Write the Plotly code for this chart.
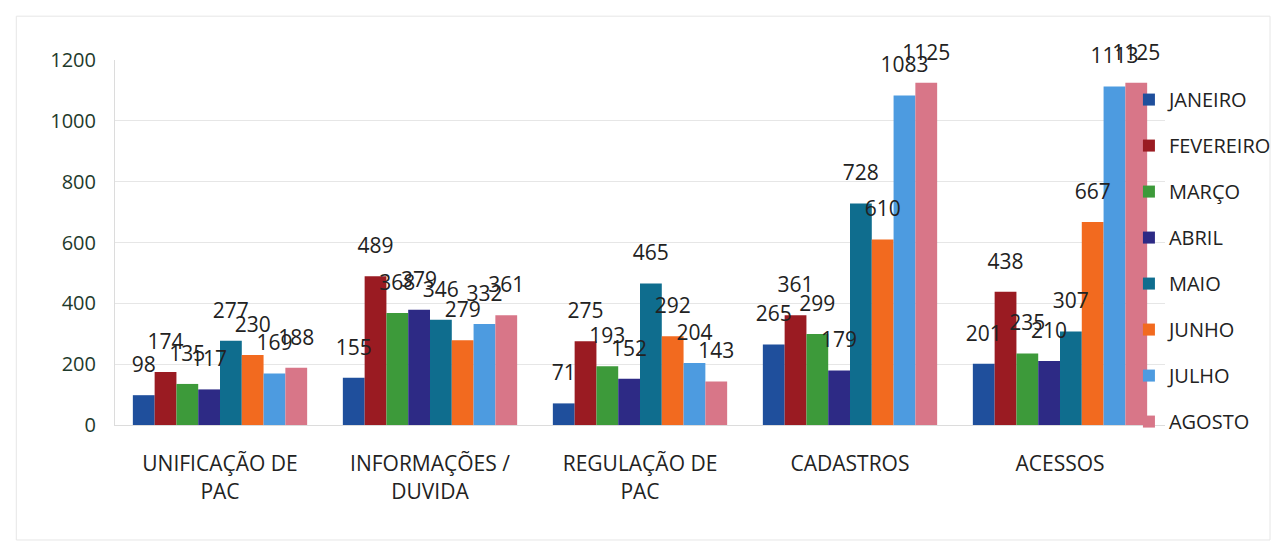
import plotly.graph_objects as go

categories = ["UNIFICAÇÃO DE<br>PAC", "INFORMAÇÕES /<br>DUVIDA", "REGULAÇÃO DE<br>PAC", "CADASTROS", "ACESSOS"]
months = ["JANEIRO", "FEVEREIRO", "MARÇO", "ABRIL", "MAIO", "JUNHO", "JULHO", "AGOSTO"]
janeiro = [98, 155, 71, 265, 201]
fevereiro = [174, 489, 275, 361, 438]
marco = [135, 368, 193, 299, 235]
abril = [117, 379, 152, 179, 210]
maio = [277, 346, 465, 728, 307]
junho = [230, 279, 292, 610, 667]
julho = [169, 332, 204, 1083, 1113]
agosto = [188, 361, 143, 1125, 1125]
series = [janeiro, fevereiro, marco, abril, maio, junho, julho, agosto]
colors = ["#1f4f9c", "#9a1b22", "#3d9a3a", "#2d2a85", "#0f6d8e", "#f26a1f", "#4d9be0", "#d87688"]

fig = go.Figure()
for name, vals, col in zip(months, series, colors):
    fig.add_trace(go.Bar(
        name=name, x=categories, y=vals, marker_color=col, marker_line_width=0,
        offsetgroup=name, legendgroup=name,
    ))
for name, vals in zip(months, series):
    fig.add_trace(go.Scatter(
        x=categories, y=vals, mode="markers+text", offsetgroup=name,
        text=[str(v) for v in vals], textposition="top center", cliponaxis=False,
        marker=dict(size=27, opacity=0), showlegend=False, hoverinfo="skip",
        textfont=dict(size=21, color="#222222", family="Open Sans"),
    ))

fig.update_layout(
    width=1284, height=546,
    paper_bgcolor="white", plot_bgcolor="white",
    barmode="group", bargap=0.17, bargroupgap=0,
    scattermode="group", scattergap=0.17,
    margin=dict(l=107, r=127, t=52, b=129, autoexpand=False),
    font=dict(family="Open Sans", color="#222222"),
    legend=dict(xref="container", yref="container", x=0.873, xanchor="left",
                y=0.868, yanchor="top", maxheight=520,
                font=dict(size=20, color="#222222"), tracegroupgap=17,
                bgcolor="rgba(0,0,0,0)", itemwidth=30),
    showlegend=True,
)
fig.update_yaxes(range=[0, 1200], dtick=200, showgrid=True, gridcolor="#e6e6e6",
                 tickfont=dict(size=20, color="#1e3a2c"), showline=True, linecolor="#dcdcdc",
                 ticks="outside", tickcolor="white", ticklen=14, zeroline=False, automargin=False)
fig.update_xaxes(tickfont=dict(size=21, color="#222222"), showline=True, linecolor="#dcdcdc",
                 ticks="outside", tickcolor="white", ticklen=20, automargin=False)
fig.add_shape(type="rect", xref="paper", yref="paper", x0=-0.094, x1=1.1, y0=-0.315, y1=1.12,
              line=dict(color="#e6e6e6", width=1))

fig.write_html("out.html")
